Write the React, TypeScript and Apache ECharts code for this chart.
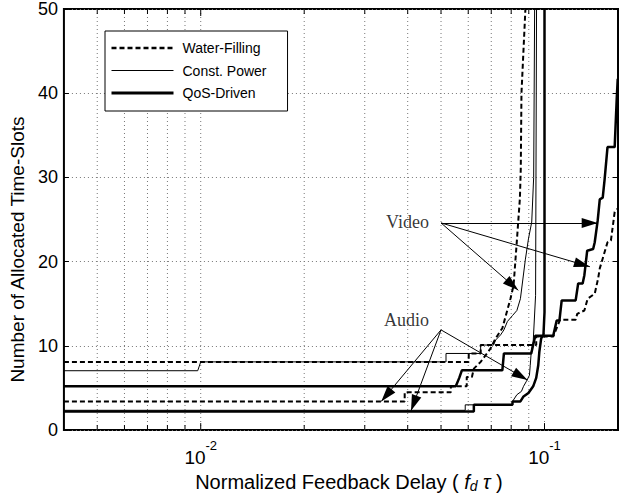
import { useEffect, useRef } from 'react';
import * as echarts from 'echarts';

// Axis ranges
const X_MIN = 0.004;
const X_MAX = 0.1636;
const Y_MIN = 0;
const Y_MAX = 50;
const Y_STEP = 10;

// Positions of the log-decade grid lines / ticks on the x axis
const gridTickValues = [
  0.005, 0.006, 0.007, 0.008, 0.009, 0.01,
  0.02, 0.03, 0.04, 0.05, 0.06, 0.07, 0.08, 0.09, 0.1,
];

const legendNames = ['Water-Filling', 'Const. Power', 'QoS-Driven'];

// Number of allocated time-slots vs. normalized feedback delay [f_d*tau, slots]
const videoWaterFilling = [
  [0.004, 8.1], [0.0602, 8.1], [0.0602, 9.1], [0.0652, 9.1], [0.0652, 10.1],
  [0.0946, 10.1], [0.0946, 11.1], [0.106, 11.1], [0.111, 13.1], [0.1232, 13.1],
  [0.1245, 13.8], [0.1306, 14.2], [0.1335, 15.6], [0.14, 16.2], [0.1432, 18.0],
  [0.1448, 19.2], [0.1525, 22.3], [0.156, 22.5], [0.16, 25.9], [0.1633, 26.3],
];
const videoConstPower = [
  [0.004, 7.05], [0.0098, 7.05], [0.01, 8.1], [0.0517, 8.1], [0.0517, 9.1],
  [0.0652, 9.1], [0.0652, 10.1], [0.0711, 10.1], [0.0721, 10.7], [0.0745, 11.3],
  [0.0762, 11.9], [0.078, 12.9], [0.0807, 13.6], [0.0831, 14.2], [0.0851, 15.6],
  [0.088, 20.3], [0.0898, 22.7], [0.0918, 24.7], [0.093, 30], [0.0936, 50],
];
const videoQosDriven = [
  [0.004, 5.2], [0.0552, 5.2], [0.0565, 6.2], [0.0575, 7.1], [0.0754, 7.1],
  [0.0762, 9.1], [0.0915, 9.1], [0.094, 11.2], [0.106, 11.2], [0.1085, 13.0],
  [0.1105, 13.0], [0.1122, 15.4], [0.1232, 15.4], [0.1253, 17.4], [0.1291, 17.4],
  [0.1306, 18.4], [0.1331, 21.3], [0.1385, 21.5], [0.14, 22.3], [0.1428, 24.9],
  [0.1448, 27.4], [0.1477, 27.6], [0.1496, 29.8], [0.1525, 33.6], [0.16, 33.6],
  [0.1622, 39.3], [0.1633, 41.7],
];
const audioWaterFilling = [
  [0.004, 3.4], [0.0392, 3.4], [0.0392, 4.5], [0.0534, 4.5], [0.0534, 5.2],
  [0.0594, 5.2], [0.0594, 6.3], [0.0615, 6.3], [0.0623, 7.3], [0.0652, 8.1],
  [0.0697, 9.7], [0.0721, 10.9], [0.0754, 12.1], [0.0796, 15.6], [0.0813, 17.2],
  [0.0829, 21.9], [0.0848, 27.5], [0.0853, 31], [0.0857, 40], [0.088, 50],
];
const audioConstPower = [
  [0.004, 2.35], [0.0588, 2.35], [0.0588, 3.0], [0.0807, 3.0], [0.0807, 3.4],
  [0.0831, 4.2], [0.0857, 4.6], [0.0869, 5.2], [0.0886, 5.8], [0.0904, 6.5],
  [0.0909, 7.7], [0.0915, 9.3], [0.0927, 10.5], [0.0942, 16], [0.0948, 50],
];
const audioQosDriven = [
  [0.004, 2.2], [0.0623, 2.2], [0.0623, 3.0], [0.0807, 3.0], [0.0807, 3.4],
  [0.0851, 3.4], [0.0869, 4.0], [0.0898, 4.4], [0.0927, 5.2], [0.0946, 6.2],
  [0.0959, 7.7], [0.0966, 9.3], [0.0978, 10.9], [0.0993, 11.3], [0.1, 14],
  [0.1, 50],
];

// Annotation anchors and the curve points their arrows point at
const videoLabelAt = [0.05, 24.6];
const videoArrowTargets = [[0.1428, 24.6], [0.1355, 19.4], [0.0839, 16.6]];
const audioLabelAt = [0.05, 11.9];
const audioArrowTargets = [[0.0335, 3.4], [0.0409, 2.3], [0.0892, 5.95]];

const SANS = "'Liberation Sans', Arial, Helvetica, sans-serif";
const SERIF = "'Liberation Serif', 'Times New Roman', serif";

const isDecade = (v: number) => {
  const e = Math.log10(v);
  return Math.abs(e - Math.round(e)) < 1e-6;
};

const lineSeries = (name: string, data: number[][], style: any) => ({
  type: 'line',
  name,
  data,
  symbol: 'none',
  showSymbol: false,
  silent: true,
  z: 3,
  lineStyle: { color: '#000', ...style },
  itemStyle: { color: '#000' },
});

const WF_STYLE = { width: 2, type: [5, 3] };
const CP_STYLE = { width: 1, type: 'solid' };
const QOS_STYLE = { width: 2.5, type: 'solid' };

const arrows = (from: number[], targets: number[][]) =>
  targets.map((t) => [{ coord: from }, { coord: t }]);

export default function App() {
  const ref = useRef<HTMLDivElement>(null);

  useEffect(() => {
    if (!ref.current) return;
    const chart = echarts.init(ref.current, undefined, { renderer: 'svg' });

    chart.setOption({
      animation: false,
      backgroundColor: '#fff',
      grid: {
        left: 61,
        right: 12,
        top: 9,
        bottom: 66,
        show: true,
        borderColor: '#000',
        borderWidth: 2,
        backgroundColor: 'transparent',
      },
      legend: {
        data: [
          { name: legendNames[0], lineStyle: { width: 2.5, type: [5, 3] } },
          { name: legendNames[1], lineStyle: { width: 1 } },
          { name: legendNames[2], lineStyle: { width: 3 } },
        ],
        orient: 'vertical',
        left: 105,
        top: 31,
        padding: [10, 21, 11, 5],
        itemGap: 8.5,
        itemWidth: 62,
        itemHeight: 14,
        backgroundColor: '#fff',
        borderColor: '#000',
        borderWidth: 1,
        z: 10,
        selectedMode: false,
        // line-only legend keys: hide the marker drawn over the line
        itemStyle: { color: 'rgba(0,0,0,0)', borderWidth: 0, opacity: 0 },
        textStyle: { fontFamily: SANS, fontSize: 14, color: '#000', padding: [0, 0, 0, 4] },
      },
      xAxis: {
        type: 'log',
        logBase: 10,
        min: X_MIN,
        max: X_MAX,
        axisLine: { show: false },
        axisTick: { show: false },
        splitLine: { show: false },
        axisLabel: {
          margin: 9,
          formatter: (v: number) =>
            isDecade(v) ? `{b|10}{s|${Math.round(Math.log10(v))}}` : '',
          rich: {
            b: { fontFamily: SANS, fontSize: 19, color: '#000', padding: [9, 0, 0, 0] },
            s: { fontFamily: SANS, fontSize: 13, color: '#000', verticalAlign: 'top' },
          },
        },
        name: '{n|Normalized Feedback Delay ( }{i|f}{d|d}{i| τ}{n| )}',
        nameLocation: 'middle',
        nameGap: 40,
        nameTextStyle: {
          padding: [0, 0, 0, 16],
          rich: {
            n: { fontFamily: SANS, fontSize: 20, color: '#000' },
            i: { fontFamily: SANS, fontSize: 20, fontStyle: 'italic', color: '#000' },
            d: { fontFamily: SANS, fontSize: 14, fontStyle: 'italic', color: '#000', padding: [8, 0, 0, 0] },
          },
        },
      },
      yAxis: [
        {
          type: 'value',
          min: Y_MIN,
          max: Y_MAX,
          interval: Y_STEP,
          axisLine: { show: false },
          axisTick: { show: true, inside: true, length: 5, lineStyle: { color: '#000' } },
          axisLabel: { margin: 6, fontFamily: SANS, fontSize: 18, color: '#000' },
          splitLine: { show: true, lineStyle: { color: '#777', width: 1, type: [1, 3] } },
          name: 'Number of Allocated Time-Slots',
          nameLocation: 'middle',
          nameGap: 30,
          nameTextStyle: { fontFamily: SANS, fontSize: 19, color: '#000', padding: [0, 60, 0, 0] },
        },
        {
          type: 'value',
          position: 'right',
          min: Y_MIN,
          max: Y_MAX,
          interval: Y_STEP,
          axisLine: { show: false },
          axisTick: { show: true, inside: true, length: 5, lineStyle: { color: '#000' } },
          axisLabel: { show: false },
          splitLine: { show: false },
        },
      ],
      series: [
        {
          type: 'custom',
          name: 'x-grid',
          silent: true,
          z: 1,
          data: gridTickValues.map((v) => [v, 0]),
          renderItem: (params: any, api: any) => {
            const v = api.value(0);
            const p = api.coord([v, 0]);
            const cs = params.coordSys;
            const top = cs.y;
            const bottom = cs.y + cs.height;
            const len = isDecade(v) ? 7 : 5;
            return {
              type: 'group',
              children: [
                {
                  type: 'line',
                  shape: { x1: p[0], y1: top, x2: p[0], y2: bottom },
                  style: { stroke: '#777', lineWidth: 1, lineDash: [1, 3] },
                },
                {
                  type: 'line',
                  shape: { x1: p[0], y1: bottom, x2: p[0], y2: bottom - len },
                  style: { stroke: '#000', lineWidth: 1 },
                },
                {
                  type: 'line',
                  shape: { x1: p[0], y1: top, x2: p[0], y2: top + len },
                  style: { stroke: '#000', lineWidth: 1 },
                },
              ],
            };
          },
        },
        lineSeries('Water-Filling', videoWaterFilling, WF_STYLE),
        lineSeries('Const. Power', videoConstPower, CP_STYLE),
        lineSeries('QoS-Driven', videoQosDriven, QOS_STYLE),
        lineSeries('Water-Filling', audioWaterFilling, WF_STYLE),
        lineSeries('Const. Power', audioConstPower, CP_STYLE),
        lineSeries('QoS-Driven', audioQosDriven, QOS_STYLE),
        {
          type: 'scatter',
          name: 'annotations',
          silent: true,
          z: 5,
          symbolSize: 0,
          data: [
            { name: 'Video', value: videoLabelAt, label: { offset: [0, -1] } },
            { name: 'Audio', value: audioLabelAt, label: { offset: [0, -10] } },
          ],
          label: {
            show: true,
            position: 'left',
            distance: 12,
            formatter: '{b}',
            fontFamily: SERIF,
            fontSize: 18,
            color: '#000',
          },
          markLine: {
            silent: true,
            symbol: ['none', 'triangle'],
            symbolSize: [10, 16],
            symbolOffset: [[0, 0], [0, 8]],
            label: { show: false },
            lineStyle: { color: '#000', width: 1, type: 'solid' },
            itemStyle: { color: '#000' },
            data: [
              ...arrows(videoLabelAt, videoArrowTargets),
              ...arrows(audioLabelAt, audioArrowTargets),
            ],
          },
        },
      ],
    });

    return () => chart.dispose();
  }, []);

  return (
    <div
      ref={ref}
      style={{ position: 'fixed', left: 0, top: 0, width: 630, height: 498 }}
    />
  );
}
